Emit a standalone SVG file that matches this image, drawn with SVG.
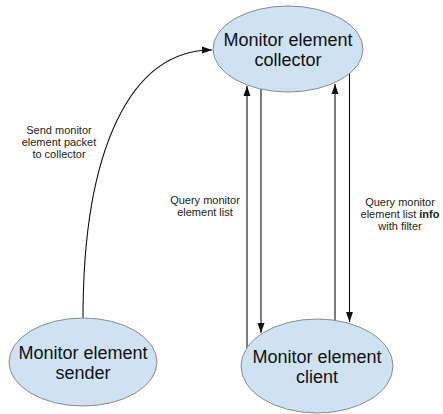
<svg xmlns="http://www.w3.org/2000/svg" width="443" height="414" viewBox="0 0 443 414">
<style>
.node ellipse{fill:#cfe2f3;stroke:#8a8a8a;stroke-width:1}
.node text{font-family:"Liberation Sans",Arial,sans-serif;font-size:18px;fill:#111;text-anchor:middle}
.lbl{font-family:"Liberation Sans",Arial,sans-serif;font-size:11px;fill:#222;text-anchor:middle}
.edge{fill:none;stroke:#111;stroke-width:1.1}
</style>
<defs>
<marker id="ah" markerUnits="userSpaceOnUse" markerWidth="10" markerHeight="10" viewBox="0 0 10 10" refX="10" refY="5" orient="auto">
<path d="M0,1.5 L10,5 L0,8.5 Z" fill="#111"/>
</marker>
</defs>
<rect width="443" height="414" fill="#fff"/>
<g id="connectors">
<path class="edge" d="M83,318 C83,150 130,50 212,50" marker-end="url(#ah)"/>
<line class="edge" x1="247" y1="348" x2="247" y2="86" marker-end="url(#ah)"/>
<line class="edge" x1="261" y1="89" x2="261" y2="333" marker-end="url(#ah)"/>
<line class="edge" x1="335" y1="320" x2="335" y2="84" marker-end="url(#ah)"/>
<line class="edge" x1="349.5" y1="74" x2="349.5" y2="322" marker-end="url(#ah)"/>
<text class="lbl"><tspan x="59" y="134">Send monitor</tspan><tspan x="59" y="146">element packet</tspan><tspan x="59" y="158">to collector</tspan></text>
<text class="lbl"><tspan x="205" y="204">Query monitor</tspan><tspan x="205" y="216">element list</tspan></text>
<text class="lbl"><tspan x="400" y="206">Query monitor</tspan><tspan x="400" y="218">element list <tspan font-weight="bold">info</tspan></tspan><tspan x="400" y="230">with filter</tspan></text>
</g>
<g id="collector" class="node">
<ellipse cx="288" cy="49" rx="75" ry="43"/>
<text x="288" y="46">Monitor element</text>
<text x="288" y="66">collector</text>
</g>
<g id="sender" class="node">
<ellipse cx="83" cy="362" rx="74" ry="44"/>
<text x="83" y="359">Monitor element</text>
<text x="83" y="379">sender</text>
</g>
<g id="client" class="node">
<ellipse cx="317" cy="366" rx="76" ry="47"/>
<text x="317" y="363">Monitor element</text>
<text x="317" y="383">client</text>
</g>
</svg>
